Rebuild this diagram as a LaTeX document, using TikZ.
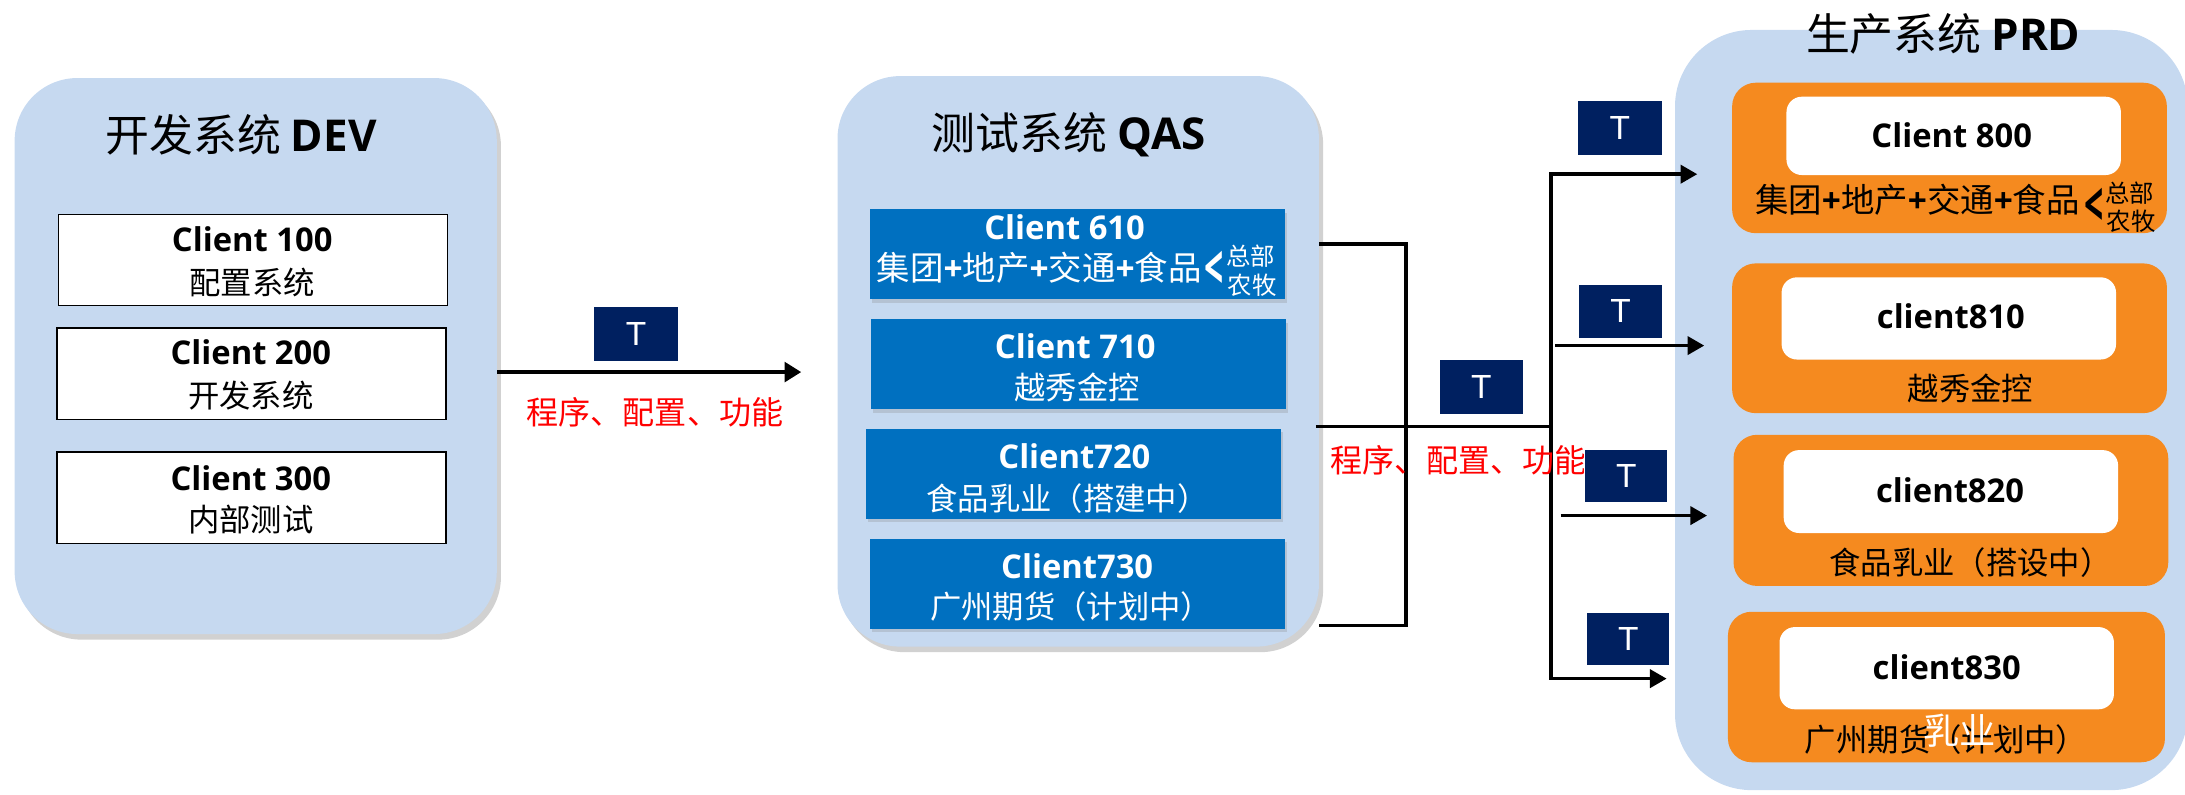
\documentclass[tikz,border=0pt]{standalone}
\usepackage{fontspec}
\setmainfont{Noto Sans CJK SC}
\newfontfamily\lat{Open Sans}
\newfontfamily\tfont{Liberation Sans}
\usetikzlibrary{arrows.meta,shadows}
\definecolor{contblue}{RGB}{198,217,240}
\definecolor{qblue}{RGB}{0,112,192}
\definecolor{tnavy}{RGB}{0,32,96}
\definecolor{prdorange}{RGB}{245,138,31}
\newcommand{\myplus}{{\lat\bfseries +}}
\newcommand{\mychev}{\scalebox{0.55}[1]{\lat\bfseries <}}
\begin{document}
\begin{tikzpicture}[x=1pt,y=-1pt,
 container/.style={fill=contblue, rounded corners=45pt, inner sep=0pt},
 cshadow/.style={drop shadow={shadow xshift=3pt, shadow yshift=-4pt, opacity=0.3, fill=black!60}},
 devbox/.style={draw=black, line width=1.1pt, fill=white, inner sep=0pt, minimum width=279pt, minimum height=65.5pt},
 qbox/.style={fill=qblue, inner sep=0pt, minimum width=298pt, minimum height=64.5pt, drop shadow={shadow xshift=1.5pt, shadow yshift=-2.5pt, opacity=0.25}},
 obox/.style={fill=prdorange, rounded corners=17pt, inner sep=0pt, minimum width=312pt, minimum height=108pt},
 wbox/.style={fill=white, rounded corners=11pt, inner sep=0pt, minimum width=240pt, minimum height=59pt},
 tbox/.style={fill=tnavy, inner sep=0pt, minimum width=60pt, minimum height=38.5pt, text=white, font=\tfont\fontsize{24}{24}\selectfont},
 title/.style={font=\fontsize{31.5}{33}\selectfont, inner sep=0pt},
 clabel/.style={font=\lat\bfseries\fontsize{23.5}{25}\selectfont, inner sep=0pt},
 zlabel/.style={font=\fontsize{22.5}{24}\selectfont, inner sep=0pt},
 zmain/.style={font=\fontsize{24}{26}\selectfont, inner sep=0pt},
 chev/.style={font=\fontsize{44}{46}\selectfont, inner sep=0pt},
 small/.style={font=\fontsize{17.5}{18}\selectfont, inner sep=0pt},
 redlabel/.style={text=red, font=\fontsize{23}{24}\selectfont, inner sep=0pt},
 conn/.style={line width=2.6pt},
 arr/.style={line width=2.6pt, -{Triangle[length=12pt,width=13pt]}},
]
\useasboundingbox (0,0) rectangle (1568,570);

% ---------------- DEV ----------------
\node[container, cshadow, minimum width=346pt, minimum height=399pt] (dev) at (183.5,255.5) {};
\node[title] (devtitle) at (173,97) {开发系统 {\lat\bfseries DEV}};
\node[devbox] (c100) at (181.5,186.6) {};
\node[devbox] (c200) at (180.4,268.3) {};
\node[devbox] (c300) at (180.4,357.3) {};
\node[clabel] (c100a) at (181,172) {Client 100};
\node[zlabel] (c100b) at (181,203) {配置系统};
\node[clabel] (c200a) at (180,253) {Client 200};
\node[zlabel] (c200b) at (180,284) {开发系统};
\node[clabel] (c300a) at (180,343) {Client 300};
\node[zlabel] (c300b) at (180,373) {内部测试};

% ---------------- QAS ----------------
\node[container, cshadow, minimum width=345.5pt, minimum height=409.4pt] (qas) at (773.75,259.3) {};
\node[title] (qastitle) at (767,97) {测试系统 {\lat\bfseries QAS}};
\node[qbox] (b610) at (773,182.5) {};
\node[qbox] (b710) at (773.75,261.5) {};
\node[qbox] (b720) at (770.5,340) {};
\node[qbox] (b730) at (773,419) {};
\begin{scope}[text=white]
\node[clabel] (b610a) at (764,163) {Client 610};
\node[zmain] (b610b) at (745.7,192) {集团\myplus 地产\myplus 交通\myplus 食品};
\node[chev] (b610c) at (871.5,194) {\mychev};
\node[small] (b610d) at (897.5,184) {总部};
\node[small] (b610e) at (898.5,205) {农牧};
\node[clabel] (b710a) at (771.6,248.7) {Client 710};
\node[zlabel] (b710b) at (773,277.7) {越秀金控};
\node[clabel] (b720a) at (771,327.4) {Client720};
\node[zlabel] (b720b) at (766,357.8) {食品乳业（搭建中）};
\node[clabel] (b730a) at (773,406) {Client730};
\node[zlabel] (b730b) at (768.7,435) {广州期货（计划中）};
\end{scope}

% ---------------- PRD ----------------
\node[fill=contblue, rounded corners=55pt, inner sep=0pt, minimum width=368pt, minimum height=545.5pt] (prd) at (1386,294.25) {};
\node[title] (prdtitle) at (1394.5,24) {生产系统 {\lat\bfseries PRD}};

\node[obox] (o800) at (1399,113.35) {};
\node[wbox, minimum height=56.2pt] (w800) at (1402,97.5) {};
\node[clabel] (w800a) at (1400.6,97) {Client 800};
\node[zmain] (o800b) at (1376,143.5) {集团\myplus 地产\myplus 交通\myplus 食品};
\node[chev] (o800c) at (1503,149) {\mychev};
\node[small] (o800d) at (1528.5,138.7) {总部};
\node[small] (o800e) at (1529.5,159) {农牧};

\node[obox, minimum height=107.5pt] (o810) at (1399,242.75) {};
\node[wbox] (w810) at (1398.5,228.5) {};
\node[clabel] (w810a) at (1400,227) {client810};
\node[zlabel] (o810b) at (1414,278.6) {越秀金控};

\node[obox, minimum height=108.5pt] (o820) at (1400,366.25) {};
\node[wbox, minimum height=59.5pt] (w820) at (1400,352.75) {};
\node[clabel] (w820a) at (1399.4,351.6) {client820};
\node[zlabel] (o820b) at (1414,404) {食品乳业（搭设中）};

\node[obox, minimum width=313.6pt] (o830) at (1396.8,493) {};
\node[wbox] (w830) at (1397,479.5) {};
\node[clabel] (w830a) at (1397,478.5) {client830};
\node[zlabel] (o830b) at (1396.5,531) {广州期货（计划中）};
\node[text=white, font=\fontsize{26}{27}\selectfont, inner sep=0pt] (o830c) at (1406.5,524) {乳业};

% ---------------- connectors ----------------
\coordinate (a1e) at (575,267);
\draw[line width=3pt, -{Triangle[length=12pt,width=14pt]}] (dev.east |- a1e) -- (a1e);
\node[tbox] (t0) at (456.5,239.5) {T};
\node[redlabel] (red1) at (470,295.6) {程序、配置、功能};

\coordinate (brA) at (1009,175);
\coordinate (brB) at (1009,449);
\coordinate (hub) at (1113,306);
\coordinate (vtop) at (1113,125);
\coordinate (vbot) at (1113,487);
\coordinate (s2) at (1116,248);
\coordinate (s3) at (1120,370);
\coordinate (e1) at (1218,125);
\coordinate (e2) at (1223,248);
\coordinate (e3) at (1225,370);
\coordinate (e4) at (1196,487);

\draw[conn] (qas.east |- brA) -- (brA) -- (brB) -- (qas.east |- brB);
\draw[conn] ([xshift=-2.5pt]qas.east |- hub) -- (hub);
\draw[conn, line cap=rect] (vtop) -- (vbot);
\draw[arr] (vtop) -- (e1);
\draw[arr] (s2) -- (e2);
\draw[arr] (s3) -- (e3);
\draw[arr] (vbot) -- (e4);

\node[redlabel] (red2) at (1046.5,330) {程序、配置、功能};
\node[tbox] (tm) at (1063,277.5) {T};
\node[tbox] (t1) at (1162.5,92) {T};
\node[tbox] (t2) at (1163,223.5) {T};
\node[tbox, draw=white, line width=1pt] (t3) at (1167,341.5) {T};
\node[tbox, draw=white, line width=1pt] (t4) at (1168.5,458.5) {T};
\end{tikzpicture}
\end{document}
